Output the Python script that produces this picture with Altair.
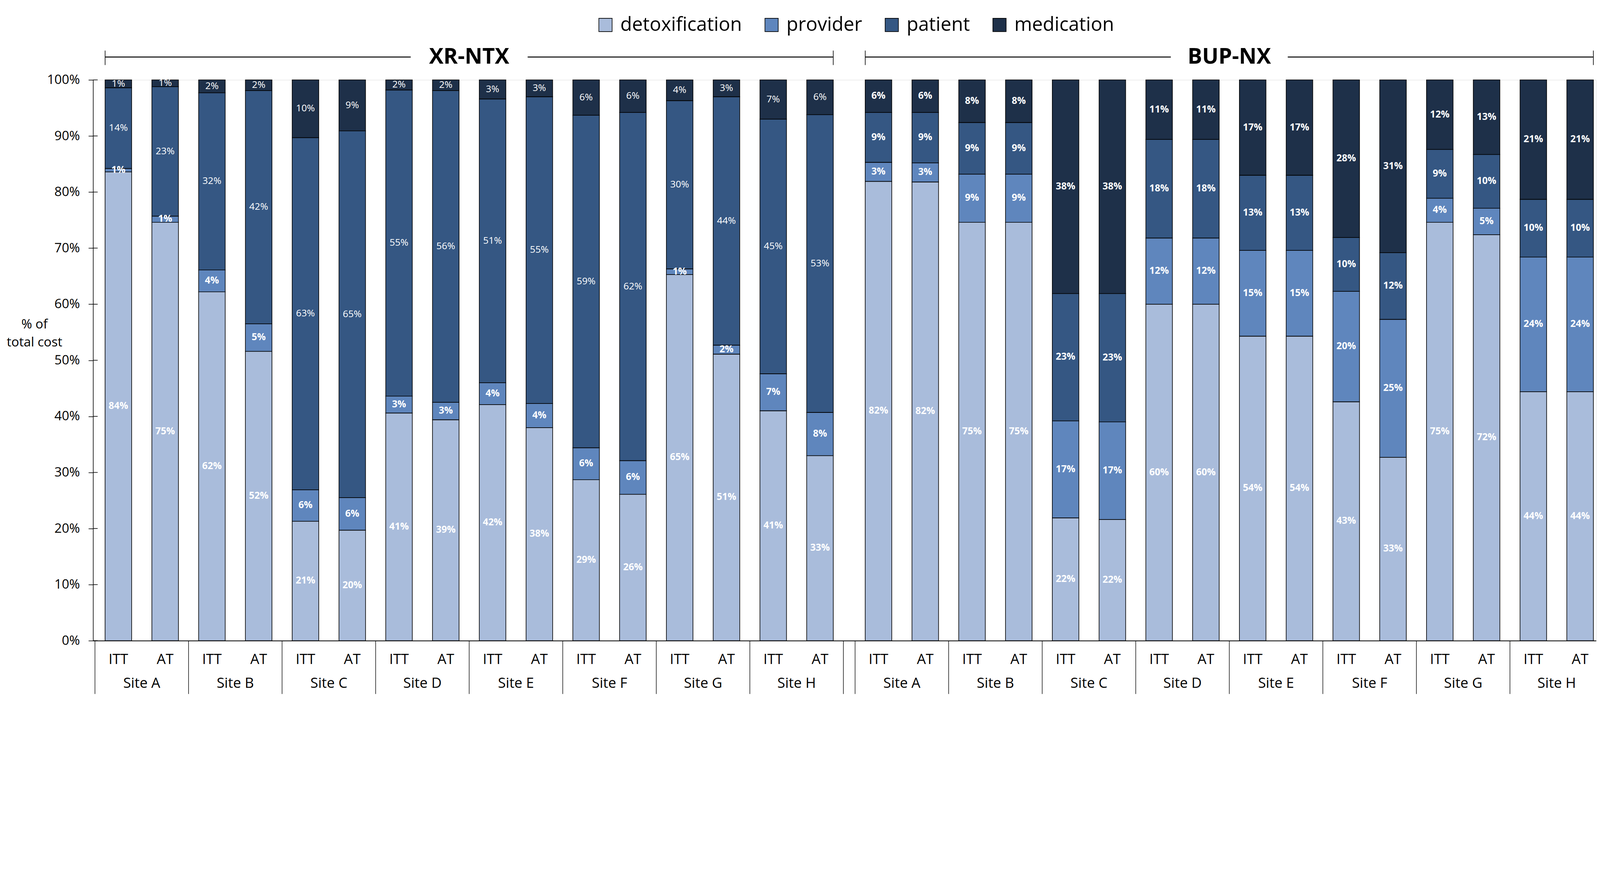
import altair as alt
import pandas as pd

# ---------------- data ----------------
drugs = ["XR-NTX", "BUP-NX"]
sites = ["Site A", "Site B", "Site C", "Site D", "Site E", "Site F", "Site G", "Site H"]
arms = ["ITT", "AT"]
components = ["detoxification", "provider", "patient", "medication"]
colors = ["#A9BCDB", "#5F86BD", "#355783", "#1E3049"]

# order: Site A ITT, Site A AT, Site B ITT, ... Site H AT  (percent of total cost)
xr_detox = [83.6, 74.6, 62.2, 51.6, 21.3, 19.7, 40.6, 39.4, 42.1, 38.0, 28.7, 26.1, 65.3, 51.1, 41.0, 33.0]
xr_provider = [0.6, 1.1, 3.9, 4.9, 5.6, 5.8, 3.0, 3.1, 3.9, 4.3, 5.7, 6.0, 1.0, 1.6, 6.6, 7.7]
xr_patient = [14.4, 23.1, 31.6, 41.6, 62.8, 65.4, 54.6, 55.6, 50.6, 54.7, 59.3, 62.1, 30.0, 44.3, 45.4, 53.1]
xr_medication = [1.4, 1.2, 2.3, 1.9, 10.3, 9.1, 1.8, 1.9, 3.4, 3.0, 6.3, 5.8, 3.7, 3.0, 7.0, 6.2]

bup_detox = [81.9, 81.8, 74.6, 74.6, 21.9, 21.6, 60.0, 60.0, 54.3, 54.3, 42.6, 32.7, 74.6, 72.4, 44.4, 44.4]
bup_provider = [3.4, 3.4, 8.6, 8.6, 17.3, 17.4, 11.8, 11.8, 15.3, 15.3, 19.7, 24.6, 4.3, 4.7, 24.0, 24.0]
bup_patient = [8.9, 9.0, 9.2, 9.2, 22.7, 22.9, 17.6, 17.6, 13.4, 13.4, 9.6, 11.9, 8.7, 9.6, 10.3, 10.3]
bup_medication = [5.8, 5.8, 7.6, 7.6, 38.1, 38.1, 10.6, 10.6, 17.0, 17.0, 28.1, 30.8, 12.4, 13.3, 21.3, 21.3]

y_ticks = list(range(0, 101, 10))

series = {
    "XR-NTX": [xr_detox, xr_provider, xr_patient, xr_medication],
    "BUP-NX": [bup_detox, bup_provider, bup_patient, bup_medication],
}

# ---------------- layout (CSS px; page is shown at ~1.26 device px per CSS px) ----------------
K = 1.26


def px(v):
    return round(v / K, 1)


W, H = 3862, 1441
PAD = {"left": 231, "top": 194, "right": 2, "bottom": 137}
GROUP_GAP = 0.25          # gap between the two drug groups (in bar steps)
HALF_BAR = 0.283          # half bar width in step units
X_DOMAIN = [-0.5, 31.55]
FONT = "Open Sans"

rows = []
for d_i, drug in enumerate(drugs):
    vals = series[drug]
    for k in range(len(sites) * len(arms)):
        site = sites[k // 2]
        arm = arms[k % 2]
        pos = d_i * 16 + k + (GROUP_GAP if d_i == 1 else 0)
        for c_i, comp in enumerate(components):
            rows.append(dict(drug=drug, site=site, arm=arm, key=f"{drug}|{site}|{arm}",
                             pos=pos, component=comp, order=c_i, value=vals[c_i][k]))
df = pd.DataFrame(rows)

bars_df = df.drop_duplicates("key")[["drug", "site", "arm", "key", "pos"]]

sep_x = []
for drug in drugs:
    sub = bars_df[bars_df.drug == drug]
    itt = sub[sub.arm == "ITT"].pos.tolist()
    at = sub[sub.arm == "AT"].pos.tolist()
    sep_x += [p - 0.5 for p in itt] + [at[-1] + 0.5]
sep_df = pd.DataFrame({"x": [x for x in sep_x if X_DOMAIN[0] <= x <= X_DOMAIN[1]]})

br_rows, seg_rows, tick_rows = [], [], []
for drug in drugs:
    sub = bars_df[bars_df.drug == drug]
    start, end = sub.pos.min() - HALF_BAR, sub.pos.max() + HALF_BAR
    center = (sub.pos.min() + sub.pos.max()) / 2
    br_rows.append(dict(drug=drug, center=center))
    seg_rows += [dict(x=start, x2=center - 1.25), dict(x=center + 1.25, x2=end)]
    tick_rows += [dict(x=start), dict(x=end)]
br_df = pd.DataFrame(br_rows)
seg_df = pd.DataFrame(seg_rows)
btick_df = pd.DataFrame(tick_rows)
ytick_df = pd.DataFrame({"v": y_ticks})

# ---------------- encodings ----------------
xscale = alt.Scale(domain=X_DOMAIN, nice=False, zero=False)
xaxis = alt.Axis(title=None, labels=False, ticks=False, grid=False,
                 domainColor="black", domainWidth=px(2.5))
yscale = alt.Scale(domain=[0, 100], nice=False)
yaxis = alt.Axis(title=["% of", "total cost"], values=y_ticks, grid=False,
                 labelExpr="datum.value + '%'", labelFontSize=px(42), labelColor="black",
                 labelPadding=px(28), tickSize=px(15), tickColor="black", tickWidth=px(2),
                 domainColor="black", domainWidth=px(2),
                 titleAngle=0, titleAlign="center", titleBaseline="middle",
                 titleX=px(-190), titleY=H * (1 - 0.564), titleFontSize=px(42),
                 titleFontWeight="normal", titleColor="black", titleLineHeight=px(58))


def X(field):
    return alt.X(field, type="quantitative", scale=xscale, axis=xaxis)


def Y(field):
    return alt.Y(field, type="quantitative", scale=yscale, axis=yaxis)


stacked = alt.Chart(df).transform_stack(
    stack="value", groupby=["key"], as_=["y0", "y1"], sort=[alt.SortField("order")]
)

bars = stacked.mark_bar(size=px(86), stroke="black", strokeWidth=px(2)).encode(
    x=X("pos"),
    y=Y("y0"),
    y2="y1:Q",
    color=alt.Color(
        "component:N",
        scale=alt.Scale(domain=components, range=colors),
        sort=components,
        legend=alt.Legend(
            title=None, orient="none", direction="horizontal",
            legendX=px(1628), legendY=px(-209),
            symbolType="square", symbolSize=px(43) ** 2, symbolStrokeColor="black",
            symbolStrokeWidth=px(2), labelFontSize=px(62), labelColor="black",
            labelOffset=px(17), columnPadding=px(64), labelLimit=0,
        ),
    ),
)

labels_base = stacked.transform_calculate(
    mid="(datum.y0 + datum.y1) / 2",
    label="format(datum.value, '.0f') + '%'",
)
bold_expr = "datum.drug == 'BUP-NX' || datum.component == 'detoxification' || datum.component == 'provider'"
labels_bold = labels_base.transform_filter(bold_expr).mark_text(
    color="white", fontSize=px(31), fontWeight="bold", baseline="middle"
).encode(x=X("pos"), y=Y("mid"), text="label:N")
labels_reg = labels_base.transform_filter("!(" + bold_expr + ")").mark_text(
    color="white", fontSize=px(31), fontWeight="normal", baseline="middle"
).encode(x=X("pos"), y=Y("mid"), text="label:N")

inner_ticks = alt.Chart(ytick_df).mark_rule(color="black", strokeWidth=px(2)).encode(
    y=Y("v"), x=alt.value(0), x2=alt.value(px(15))
)

seps = alt.Chart(sep_df).mark_rule(color="black", strokeWidth=px(1.8)).encode(
    x=X("x"), y=alt.value(H), y2=alt.value(H + 137)
)

arm_labels = alt.Chart(bars_df).mark_text(fontSize=px(46), color="black", baseline="middle").encode(
    x=X("pos"), y=alt.value(H + px(62)), text="arm:N"
)

site_labels = alt.Chart(bars_df).transform_aggregate(
    mid="mean(pos)", groupby=["drug", "site"]
).mark_text(fontSize=px(46), color="black", baseline="middle").encode(
    x=X("mid"), y=alt.value(H + 110), text="site:N"
)

bracket_lines = alt.Chart(seg_df).mark_rule(color="black", strokeWidth=px(3)).encode(
    x=X("x"), x2="x2:Q", y=alt.value(px(-74))
)
bracket_ticks = alt.Chart(btick_df).mark_rule(color="black", strokeWidth=px(2)).encode(
    x=X("x"), y=alt.value(px(-95)), y2=alt.value(px(-48))
)
drug_labels = alt.Chart(br_df).mark_text(
    fontSize=px(70), fontWeight="bold", color="black", baseline="middle", align="center"
).encode(x=X("center"), y=alt.value(px(-74)), text="drug:N")

chart = alt.layer(
    bars, labels_bold, labels_reg, inner_ticks, seps, arm_labels, site_labels,
    bracket_lines, bracket_ticks, drug_labels,
).properties(
    width=W, height=H,
    padding=PAD,
    autosize=alt.AutoSizeParams(type="none"),
).configure_view(stroke=None).configure(font=FONT)

chart.save("out.html", embed_options={"renderer": "svg", "actions": False})
